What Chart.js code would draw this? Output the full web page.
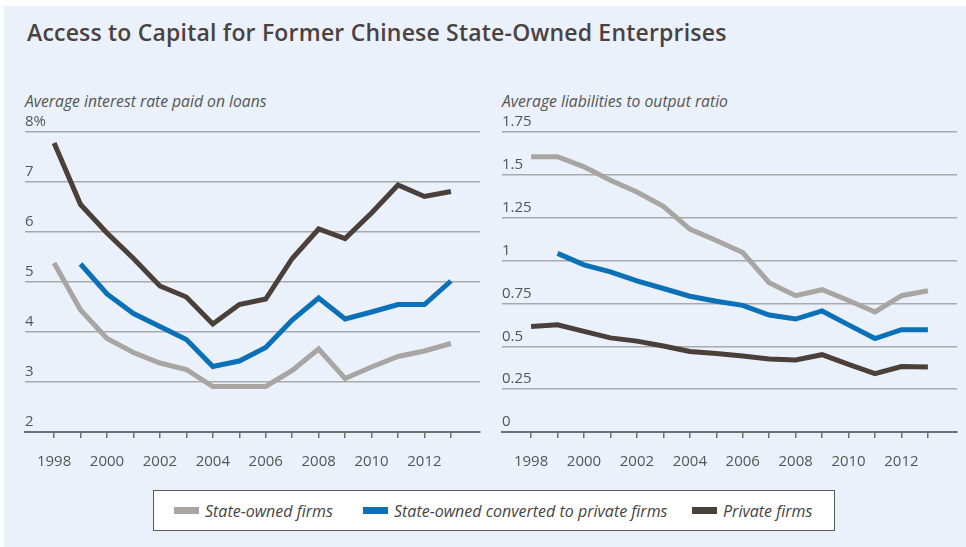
<!DOCTYPE html>
<html>
<head>
<meta charset="utf-8">
<script src="https://cdn.jsdelivr.net/npm/chart.js@4"></script>
<style>
  html, body { margin: 0; padding: 0; background: #ffffff; width: 966px; height: 547px; overflow: hidden; }
  #panel { position: absolute; left: 4px; top: 6px; width: 962px; height: 541px; background: #EAF1FA; }
  .title { position: absolute; left: 27px; top: 16px; font-family: "Open Sans", sans-serif; font-weight: 600; font-size: 23px; letter-spacing: 0.2px; line-height: 32px; color: #4a4241; white-space: nowrap; }
  .sub { position: absolute; top: 91px; font-family: "Open Sans", sans-serif; font-style: italic; font-size: 15.7px; line-height: 20px; color: #555; white-space: nowrap; }
  canvas { position: absolute; }
  #legend { position: absolute; left: 153px; top: 490px; width: 680px; height: 39px; border: 1.5px solid #5a5a5a; background: #ffffff; }
  .item { position: absolute; top: 0; height: 39px; display: flex; align-items: center; font-family: "Open Sans", sans-serif; font-style: italic; font-size: 16px; color: #444; white-space: nowrap; }
  .sw { display: inline-block; width: 25px; height: 7px; margin-right: 6px; }
</style>
</head>
<body>
<div id="panel"></div>
<div class="title">Access to Capital for Former Chinese State-Owned Enterprises</div>
<div class="sub" style="left:25px">Average interest rate paid on loans</div>
<div class="sub" style="left:502px">Average liabilities to output ratio</div>
<canvas id="left" width="490" height="370" style="left:0px;top:110px;width:490px;height:370px"></canvas>
<canvas id="right" width="476" height="370" style="left:490px;top:110px;width:476px;height:370px"></canvas>
<div id="legend"></div>
<script>
// ---- data ----
const years = [1998,1999,2000,2001,2002,2003,2004,2005,2006,2007,2008,2009,2010,2011,2012,2013];
const seriesNames = ["State-owned firms", "State-owned converted to private firms", "Private firms"];

const rateState     = [5.38,4.44,3.87,3.59,3.38,3.25,2.91,2.91,2.91,3.23,3.66,3.07,3.30,3.51,3.62,3.77];
const rateConverted = [null,5.36,4.76,4.37,4.11,3.85,3.31,3.42,3.69,4.24,4.68,4.26,4.40,4.55,4.55,5.02];
const ratePrivate   = [7.78,6.55,5.98,5.47,4.92,4.70,4.16,4.55,4.66,5.47,6.06,5.87,6.38,6.94,6.71,6.81];

const ratioState     = [1.606,1.606,1.547,1.468,1.400,1.316,1.184,1.117,1.047,0.871,0.795,0.830,0.767,0.700,0.795,0.824];
const ratioConverted = [null,1.042,0.975,0.934,0.881,0.837,0.792,0.763,0.739,0.682,0.659,0.706,0.625,0.545,0.597,0.597];
const ratioPrivate   = [0.615,0.625,0.587,0.549,0.530,0.502,0.470,0.458,0.443,0.426,0.420,0.451,0.394,0.341,0.382,0.379];

const leftTickValues  = [2,3,4,5,6,7,8];
const leftTickLabels  = ["2","3","4","5","6","7","8%"];
const rightTickValues = [0,0.25,0.5,0.75,1,1.25,1.5,1.75];
const rightTickLabels = ["0","0.25","0.5","0.75","1","1.25","1.5","1.75"];
const xTickLabels     = ["1998","","2000","","2002","","2004","","2006","","2008","","2010","","2012",""];

// ---- styles ----
const colors = ["#A8A5A3", "#0A70B8", "#4A3F39"];
const FONT = "Open Sans";

function toPoints(vals) {
  return years.map((yr, i) => ({ x: yr, y: vals[i] })).filter(p => p.y !== null);
}

function makeChart(id, seriesList, tickValues, tickLabels, yMin, yMax, padLeft, padRight) {
  const datasets = seriesList.map((vals, i) => ({
    label: seriesNames[i],
    data: toPoints(vals),
    borderColor: colors[i],
    backgroundColor: colors[i],
    borderWidth: 5,
    pointRadius: 0,
    tension: 0,
    fill: false,
    borderJoinStyle: "miter",
    borderCapStyle: "butt"
  }));
  return new Chart(document.getElementById(id), {
    type: "line",
    data: { datasets },
    options: {
      responsive: false,
      animation: false,
      maintainAspectRatio: false,
      layout: { padding: { left: padLeft, right: padRight, top: 22, bottom: 0 } },
      plugins: { legend: { display: false }, tooltip: { enabled: false } },
      scales: {
        x: {
          type: "linear",
          min: 1996.9,
          max: 2014.1,
          afterBuildTicks: (a) => { a.ticks = years.map(v => ({ value: v })); },
          afterFit: (a) => { a.height = 48; },
          grid: { drawOnChartArea: false, drawTicks: true, tickLength: 6, color: "#707070", lineWidth: 1.5 },
          border: { display: true, color: "#707070", width: 2 },
          ticks: {
            autoSkip: false, maxRotation: 0, minRotation: 0, padding: 15,
            color: "#555555", font: { family: FONT, size: 15 },
            callback: (v, i) => xTickLabels[years.indexOf(v)] ?? ""
          }
        },
        y: {
          min: yMin,
          max: yMax,
          afterBuildTicks: (a) => { a.ticks = tickValues.map(v => ({ value: v })); },
          afterFit: (a) => { a.width = 0; },
          grid: {
            drawTicks: false,
            lineWidth: 1.5,
            color: (c) => (c.tick && c.tick.value === yMin) ? "#707070" : "#A9A9A9"
          },
          border: { display: false },
          ticks: {
            mirror: true, padding: 0, labelOffset: -10,
            color: "#555555", font: { family: FONT, size: 15 },
            callback: (v, i) => tickLabels[tickValues.indexOf(v)] ?? ""
          }
        }
      }
    }
  });
}

makeChart("left",  [rateState, rateConverted, ratePrivate],  leftTickValues,  leftTickLabels,  2, 8,    25, 10);
makeChart("right", [ratioState, ratioConverted, ratioPrivate], rightTickValues, rightTickLabels, 0, 1.75, 12, 9);

// ---- legend ----
const legendPos = [20, 209, 538];
const legend = document.getElementById("legend");
seriesNames.forEach((name, i) => {
  const it = document.createElement("div");
  it.className = "item";
  it.style.left = legendPos[i] + "px";
  const sw = document.createElement("span");
  sw.className = "sw";
  sw.style.background = colors[i];
  it.appendChild(sw);
  it.appendChild(document.createTextNode(name));
  legend.appendChild(it);
});
</script>
</body>
</html>
